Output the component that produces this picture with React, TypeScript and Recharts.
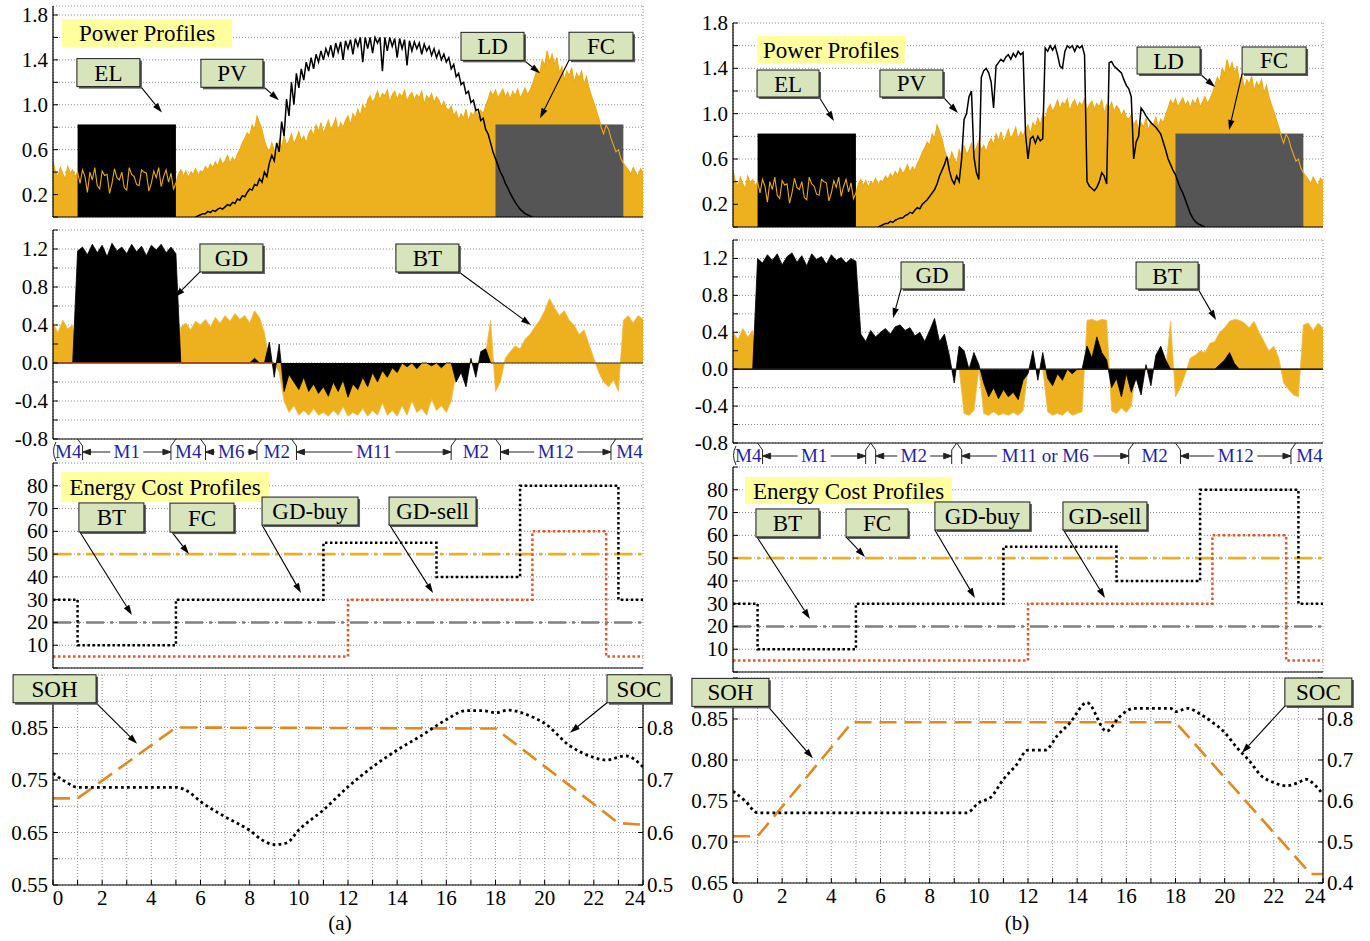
import React from 'react';
import {
  ComposedChart, Area, Line, XAxis, YAxis, CartesianGrid,
  ReferenceLine, ReferenceDot,
} from 'recharts';

// ---------------- shared axis values ----------------
const HOUR_TICKS = [0, 1, 2, 3, 4, 5, 6, 7, 8, 9, 10, 11, 12, 13, 14, 15, 16, 17, 18, 19, 20, 21, 22, 23, 24];
const POWER_TICKS = [0, 0.2, 0.4, 0.6, 0.8, 1.0, 1.2, 1.4, 1.6, 1.8];
const POWER_LABELS = [0.2, 0.6, 1.0, 1.4, 1.8];
const FLOW_TICKS = [-0.8, -0.6, -0.4, -0.2, 0, 0.2, 0.4, 0.6, 0.8, 1.0, 1.2, 1.4];
const FLOW_LABELS = [-0.8, -0.4, 0, 0.4, 0.8, 1.2];
const COST_TICKS = [0, 10, 20, 30, 40, 50, 60, 70, 80, 90];
const COST_LABELS = [10, 20, 30, 40, 50, 60, 70, 80];
const SOH_A_TICKS = [0.55, 0.6, 0.65, 0.7, 0.75, 0.8, 0.85, 0.9, 0.95];
const SOH_A_LABELS = [0.55, 0.65, 0.75, 0.85];
const SOC_A_TICKS = [0.5, 0.6, 0.7, 0.8, 0.9];
const SOC_A_LABELS = [0.5, 0.6, 0.7, 0.8];
const SOH_B_TICKS = [0.65, 0.7, 0.75, 0.8, 0.85, 0.9];
const SOH_B_LABELS = [0.65, 0.7, 0.75, 0.8, 0.85];
const SOC_B_TICKS = [0.4, 0.5, 0.6, 0.7, 0.8, 0.9];
const SOC_B_LABELS = [0.4, 0.5, 0.6, 0.7, 0.8];

// ---------------- power profiles (kW) ----------------
const LOAD_START = 0;
const LOAD_STEP = 0.1;
const LOAD_KW = [
  0.50, 0.40, 0.36, 0.44, 0.38, 0.34, 0.45, 0.39, 0.42, 0.36, 0.40,
  0.30, 0.42, 0.36, 0.22, 0.40, 0.33, 0.44, 0.28, 0.25, 0.41, 0.37, 0.38, 0.21, 0.30, 0.43, 0.35, 0.33, 0.40, 0.26, 0.24,
  0.44, 0.38, 0.36, 0.29, 0.28, 0.42, 0.40, 0.39, 0.23, 0.30, 0.41, 0.35, 0.44, 0.27, 0.36, 0.42, 0.31, 0.39, 0.25, 0.30,
  0.38, 0.42, 0.36, 0.41, 0.35, 0.40, 0.38, 0.43, 0.37, 0.41,
  0.40, 0.45, 0.42, 0.47, 0.44, 0.49, 0.45, 0.52, 0.47, 0.50, 0.55, 0.48, 0.53, 0.50, 0.56,
  0.60, 0.66, 0.70, 0.75, 0.72, 0.82, 0.78, 0.90, 0.84, 0.78, 0.68,
  0.62, 0.58, 0.66, 0.60, 0.56, 0.68, 0.62, 0.72, 0.64, 0.68, 0.74, 0.65, 0.70, 0.76, 0.68, 0.72, 0.66, 0.74,
  0.78, 0.72, 0.82, 0.76, 0.84, 0.74, 0.80, 0.86, 0.78, 0.82, 0.88, 0.76, 0.84, 0.80, 0.86, 0.90,
  0.82, 0.92, 0.88, 0.96, 0.90, 1.00, 0.95, 1.04, 1.08, 1.02,
  1.06, 1.12, 1.04, 1.10, 1.08, 1.13, 1.02, 1.09, 1.12, 1.05, 1.10, 1.07, 1.13, 1.03, 1.08,
  1.11, 1.04, 1.09, 1.06, 1.12, 1.00, 1.08, 1.05, 1.10, 1.02, 1.07, 1.04, 0.98, 1.03, 0.97,
  0.95, 0.99, 0.90, 0.94, 0.86, 0.92, 0.88, 0.96, 0.85, 0.93, 0.90, 0.97, 0.88, 0.95, 0.92, 0.99,
  1.05, 1.12, 1.08, 1.13, 1.06, 1.10, 1.14, 1.07, 1.11, 1.05, 1.12, 1.08, 1.14, 1.06, 1.10, 1.15, 1.09, 1.13, 1.18,
  1.25, 1.32, 1.28, 1.40, 1.35, 1.48, 1.38, 1.45, 1.36, 1.42,
  1.28, 1.34, 1.22, 1.30, 1.26, 1.33, 1.20, 1.28, 1.24, 1.30, 1.18, 1.25, 1.15, 1.08,
  1.02, 0.95, 0.88, 0.80, 0.74, 0.82, 0.78,
  0.70, 0.64, 0.58, 0.60, 0.52, 0.48, 0.45,
  0.42, 0.38, 0.44, 0.40, 0.36, 0.43, 0.40,
];

const PV_STEP = 0.1;
const PV_A_START = 5.8;
const PV_A_KW = [
  0, 0.01,
  0.02, 0.03, 0.03, 0.05, 0.04, 0.06, 0.05, 0.07, 0.08, 0.07,
  0.09, 0.11, 0.10, 0.13, 0.12, 0.16, 0.15, 0.19, 0.18, 0.22,
  0.25, 0.24, 0.29, 0.28, 0.34, 0.31, 0.40, 0.36, 0.48, 0.55,
  0.50, 0.66, 0.58, 0.85, 0.72, 1.05, 0.90, 1.20, 1.00, 1.28,
  1.15, 1.32, 1.22, 1.38, 1.30, 1.42, 1.32, 1.45, 1.38, 1.48,
  1.40, 1.50, 1.44, 1.53, 1.42, 1.55, 1.47, 1.56, 1.40, 1.57,
  1.50, 1.58, 1.45, 1.59, 1.52, 1.60, 1.38, 1.60, 1.50, 1.60,
  1.46, 1.60, 1.55, 1.60, 1.30, 1.60, 1.48, 1.60, 1.52, 1.59,
  1.42, 1.59, 1.50, 1.58, 1.35, 1.57, 1.48, 1.56, 1.50, 1.55,
  1.45, 1.54, 1.48, 1.52, 1.44, 1.50, 1.42, 1.48, 1.40, 1.45,
  1.38, 1.42, 1.32, 1.36, 1.25, 1.28, 1.18, 1.20, 1.10, 1.12,
  1.02, 1.04, 0.95, 0.96, 0.86, 0.88, 0.78, 0.74, 0.66, 0.58,
  0.52, 0.46, 0.40, 0.36, 0.30, 0.26, 0.21, 0.17, 0.13, 0.10,
  0.07, 0.05, 0.03, 0.02, 0.01, 0,
];

const PV_B_START = 5.9;
const PV_B_KW = [
  0,
  0.01, 0.02, 0.03, 0.03, 0.05, 0.04, 0.06, 0.07, 0.08, 0.08,
  0.10, 0.11, 0.13, 0.12, 0.15, 0.17, 0.16, 0.20, 0.22, 0.24,
  0.27, 0.30, 0.33, 0.38, 0.45, 0.50, 0.55, 0.62, 0.50, 0.42,
  0.38, 0.45, 0.40, 0.60, 0.95, 1.00, 1.15, 1.20, 0.62, 0.48,
  0.42, 1.32, 1.38, 1.40, 1.36, 1.28, 1.05, 1.42, 1.45, 1.48,
  1.46, 1.50, 1.52, 1.48, 1.53, 1.50, 1.55, 1.52, 1.54, 0.82,
  0.60, 0.78, 0.80, 0.74, 0.80, 0.76, 0.78, 1.58, 1.55, 1.60,
  1.56, 1.60, 1.52, 1.42, 1.40, 1.55, 1.60, 1.58, 1.60, 1.55,
  1.60, 1.58, 1.60, 1.52, 0.40, 0.36, 0.34, 0.32, 0.35, 0.40,
  0.48, 0.45, 0.38, 1.45, 1.46, 1.42, 1.40, 1.38, 1.36, 1.30,
  1.25, 1.22, 1.15, 0.60, 0.75, 0.80, 1.05, 1.02, 0.98, 0.95,
  0.92, 0.90, 0.88, 0.85, 0.82, 0.75, 0.68, 0.60, 0.55, 0.50,
  0.46, 0.40, 0.34, 0.30, 0.24, 0.18, 0.12, 0.08, 0.05, 0.03,
  0.02, 0.01, 0,
];

const EL_HOURS = [1, 5];
const EL_KW = 0.82;
const FC_HOURS = [18, 23.2];
const FC_KW = 0.82;

// ---------------- grid / battery exchange (kW) ----------------
const FLOW_STEP = 0.2;
const GD_A_KW = [
  0, 0, 0, 0, 0,
  1.18, 1.22, 1.14, 1.25, 1.16, 1.24, 1.12, 1.26, 1.18, 1.22, 1.15, 1.25, 1.17, 1.23, 1.13, 1.24, 1.19, 1.25, 1.16, 1.22, 1.15,
  0, 0, 0, 0, 0, 0, 0, 0, 0, 0, 0, 0, 0, 0, 0,
  0.05, 0, 0,
  0.22, -0.15, 0.20, -0.30,
  -0.12, -0.20, -0.28, -0.15, -0.30, -0.22, -0.32,
  -0.25, -0.35, -0.20, -0.30, -0.18, -0.36, -0.22, -0.28, -0.15,
  -0.25, -0.10, -0.20, -0.08, -0.15, -0.05, -0.10,
  0, -0.04, 0, -0.06, 0, 0, -0.03, 0, -0.05, 0, 0,
  -0.20, -0.10, -0.25, 0.05, -0.15, 0.12, 0.15,
  0, 0, 0, 0, 0, 0, 0, 0, 0, 0, 0, 0, 0, 0, 0, 0,
  0, 0, 0, 0, 0, 0, 0, 0, 0, 0, 0, 0, 0, 0, 0, 0,
];
const BT_A_KW = [
  0.42, 0.32, 0.45, 0.36, 0.40,
  0, 0, 0, 0, 0, 0, 0, 0, 0, 0, 0, 0, 0, 0, 0, 0, 0, 0, 0, 0, 0,
  0.38, 0.42, 0.35, 0.44, 0.40, 0.46, 0.38, 0.48, 0.42, 0.50, 0.44, 0.52, 0.46, 0.50, 0.42, 0.55, 0.48, 0.32,
  0.02, 0, -0.10,
  -0.40, -0.52, -0.45, -0.55, -0.50, -0.55, -0.48, -0.55, -0.52, -0.56, -0.50, -0.55, -0.46, -0.56, -0.52, -0.55, -0.48, -0.56,
  -0.50, -0.55, -0.42, -0.55, -0.50, -0.56, -0.45, -0.55, -0.40, -0.52, -0.48, -0.55, -0.38, -0.50, -0.45, -0.52, -0.40,
  -0.10, 0, 0, 0, 0, 0, 0.10,
  0.45, -0.30, -0.20,
  0.05, 0.12, 0.18, 0.15, 0.25, 0.30, 0.38, 0.45, 0.55, 0.68, 0.58, 0.50, 0.55, 0.45, 0.40, 0.30, 0.35, 0.20, 0.05,
  -0.10, -0.20, -0.25, -0.18, -0.30,
  0.45, 0.50, 0.42, 0.50, 0.46,
];
const GD_B_KW = [
  0, 0, 0, 0, 0,
  1.20, 1.15, 1.24, 1.18, 1.25, 1.13, 1.22, 1.26, 1.16, 1.23, 1.12, 1.25, 1.19, 1.22, 1.14, 1.24, 1.18, 1.21, 1.15, 1.20, 1.17,
  0.38, 0.30, 0.42, 0.35, 0.40, 0.44, 0.38, 0.46, 0.48, 0.42, 0.45, 0.36, 0.40, 0.30, 0.42,
  0.55, 0.30, 0.38, 0.15,
  -0.15, 0.25, 0.20,
  0, 0.18, 0.05,
  -0.15, -0.30, -0.20, -0.32, -0.22, -0.30, -0.25, -0.33, -0.12,
  -0.05, 0.20, -0.12, 0.18,
  -0.10, -0.18, -0.05, -0.12, 0, -0.05, 0, 0,
  0.25, 0.12, 0.35, 0.18, 0.10,
  -0.20, -0.10, -0.30, -0.05, -0.25,
  -0.10, -0.28, 0.05, -0.18, 0.15, 0.25, 0.10,
  0, 0, 0, 0, 0, 0, 0, 0, 0, 0, 0.05,
  0.10, 0.18, 0.06,
  0, 0, 0, 0, 0, 0, 0, 0, 0, 0, 0, 0, 0, 0, 0, 0, 0, 0,
];
const BT_B_KW = [
  0.40, 0.32, 0.44, 0.35, 0.42,
  0, 0, 0, 0, 0, 0, 0, 0, 0, 0, 0, 0, 0, 0, 0, 0, 0, 0, 0, 0, 0,
  0, 0, 0, 0, 0, 0, 0, 0, 0, 0, 0, 0, 0, 0, 0, 0, 0, 0, 0, 0, 0,
  -0.48, -0.50, -0.45,
  0,
  -0.48, -0.50, -0.46, -0.50, -0.48, -0.50, -0.47, -0.50, -0.45,
  0, 0, 0, 0,
  -0.46, -0.50, -0.48, -0.50, -0.45, -0.50, -0.48, -0.46,
  0.53, 0.54, 0.52, 0.54, 0.53,
  -0.45, -0.48, -0.42, -0.47, -0.40,
  0, 0, 0, 0, 0, 0, 0,
  0.52,
  -0.30, -0.20, -0.05,
  0.12, 0.15, 0.20, 0.18, 0.28, 0.30, 0.40, 0.45, 0.52, 0.54, 0.53, 0.50, 0.45, 0.52, 0.40, 0.30, 0.20, 0.25, 0.12,
  -0.15, -0.22, -0.28, -0.30,
  0.48, 0.50, 0.42, 0.50, 0.45,
];

// ---------------- energy cost profiles ----------------
const BUY_HOURS = [0, 1, 5, 11, 15.6, 19, 23, 24];
const BUY_PRICE = [30, 10, 30, 55, 40, 80, 30, 30];
const SELL_HOURS = [0, 12, 19.5, 22.5, 24];
const SELL_PRICE = [5, 30, 60, 5, 5];
const FC_PRICE = 50;
const BT_PRICE = 20;

// ---------------- battery state ----------------
const SOH_A_HOURS = [0, 1, 5, 18, 23, 24];
const SOH_A = [0.715, 0.715, 0.85, 0.848, 0.668, 0.665];
const SOC_A_HOURS = [0, 0.5, 1, 2, 3, 4, 5, 5.5, 6, 7, 8, 8.5, 9, 9.5, 10, 11, 12, 13, 14, 15, 16, 16.8, 17.5, 18, 18.5, 19.5, 20, 21, 22, 22.5, 23.3, 24];
const SOC_A = [0.713, 0.697, 0.686, 0.686, 0.686, 0.686, 0.686, 0.678, 0.659, 0.630, 0.604, 0.586, 0.577, 0.580, 0.605, 0.643, 0.687, 0.725, 0.757, 0.785, 0.815, 0.832, 0.832, 0.828, 0.833, 0.820, 0.808, 0.766, 0.743, 0.738, 0.746, 0.725];
const SOH_B_HOURS = [0, 1, 4.85, 18, 23.5, 24];
const SOH_B = [0.707, 0.707, 0.846, 0.846, 0.661, 0.661];
const SOC_B_HOURS = [0, 0.5, 1, 2, 4, 6, 8, 9.5, 10, 10.5, 11, 11.5, 12, 12.7, 13.2, 13.7, 14.4, 15.2, 15.7, 16.3, 17.8, 18, 18.5, 19, 19.5, 20, 20.5, 21, 21.5, 22, 22.5, 23, 23.3, 23.7, 24];
const SOC_B = [0.624, 0.600, 0.571, 0.571, 0.571, 0.571, 0.571, 0.571, 0.596, 0.610, 0.653, 0.686, 0.724, 0.724, 0.760, 0.790, 0.840, 0.770, 0.804, 0.826, 0.826, 0.818, 0.826, 0.812, 0.792, 0.767, 0.730, 0.698, 0.661, 0.645, 0.637, 0.645, 0.653, 0.637, 0.616];

// ---------------- operating modes ----------------
const MODES_A = ['M4', 'M1', 'M4', 'M6', 'M2', 'M11', 'M2', 'M12', 'M4'];
const MODE_EDGES_A = [0, 1, 5, 6, 8.5, 9.7, 16.4, 18, 22.9, 24];
const MODES_B = ['M4', 'M1', 'M2', 'M11 or M6', 'M2', 'M12', 'M4'];
const MODE_EDGES_B = [0, 1, 5.6, 9.1, 16.3, 18, 22.9, 24];

// ---------------- styling ----------------
const FONT = '"Liberation Serif", "Times New Roman", serif';
const ORANGE = '#EDB120';
const FC_GREY = '#555555';
const SELL_RED = '#E8532A';
const SOH_ORANGE = '#E3881E';
const MODE_BLUE = '#1f1fa8';
const CHART_W = 690;
const PLOT_LEFT = 53;
const PLOT_RIGHT = 643;
const HOUR_PX = (PLOT_RIGHT - PLOT_LEFT) / 24;
const Y_W = 48;
const STRIP_H = 24;
const TICK_FONT = 21;

// ---------------- tables built from the arrays ----------------
type Row = { t: number; v: number };
const evenRows = (start: number, step: number, vals: number[]): Row[] =>
  vals.map((v, i) => ({ t: Math.round((start + i * step) * 100) / 100, v }));
const pairRows = (ts: number[], vs: number[]): Row[] => ts.map((t, i) => ({ t, v: vs[i] }));
const levelRows = (ts: number[], v: number): Row[] => ts.map((t) => ({ t, v }));

const LOAD_ROWS = evenRows(LOAD_START, LOAD_STEP, LOAD_KW);
const PV_A_ROWS = evenRows(PV_A_START, PV_STEP, PV_A_KW);
const PV_B_ROWS = evenRows(PV_B_START, PV_STEP, PV_B_KW);
const EL_ROWS = levelRows(EL_HOURS, EL_KW);
const FC_ROWS = levelRows(FC_HOURS, FC_KW);
const GD_A_ROWS = evenRows(0, FLOW_STEP, GD_A_KW);
const BT_A_ROWS = evenRows(0, FLOW_STEP, BT_A_KW);
const GD_B_ROWS = evenRows(0, FLOW_STEP, GD_B_KW);
const BT_B_ROWS = evenRows(0, FLOW_STEP, BT_B_KW);
const BUY_ROWS = pairRows(BUY_HOURS, BUY_PRICE);
const SELL_ROWS = pairRows(SELL_HOURS, SELL_PRICE);
const FC_PRICE_ROWS = levelRows([0, 24], FC_PRICE);
const BT_PRICE_ROWS = levelRows([0, 24], BT_PRICE);
const SOH_A_ROWS = pairRows(SOH_A_HOURS, SOH_A);
const SOC_A_ROWS = pairRows(SOC_A_HOURS, SOC_A);
const SOH_B_ROWS = pairRows(SOH_B_HOURS, SOH_B);
const SOC_B_ROWS = pairRows(SOC_B_HOURS, SOC_B);
const HOUR_ROWS = HOUR_TICKS.map((t) => ({ t }));

const labelled = (list: number[], digits: number) => (v: number) =>
  list.some((l) => Math.abs(l - v) < 1e-6) ? v.toFixed(digits) : '';

// ---------------- callouts ----------------
type Note = {
  x: number; y: number; text: string;
  bx: number; by: number; w: number; h: number;
  ax?: number; ay?: number; title?: boolean; right?: boolean;
};

const NOTES_P1_A: Note[] = [
  { x: 0.37, y: 1.764, text: 'Power Profiles', bx: 0, by: 0, w: 170, h: 28, title: true },
  { x: 4.43, y: 0.93, text: 'EL', bx: -85, by: -54, w: 63, h: 28, ax: -22, ay: -27 },
  { x: 9.19, y: 1.04, text: 'PV', bx: -78, by: -41, w: 62, h: 28, ax: -16, ay: -14 },
  { x: 19.81, y: 1.28, text: 'LD', bx: -79, by: -41, w: 63, h: 28, ax: -16, ay: -13 },
  { x: 19.81, y: 0.88, text: 'FC', bx: 29, by: -86, w: 64, h: 28, ax: 29, ay: -58 },
];
const NOTES_P1_B: Note[] = [
  { x: 0.98, y: 1.685, text: 'Power Profiles', bx: 0, by: 0, w: 148, h: 27, title: true },
  { x: 4.11, y: 0.935, text: 'EL', bx: -77, by: -51, w: 62, h: 27, ax: -15, ay: -24 },
  { x: 9.15, y: 1.006, text: 'PV', bx: -78, by: -43, w: 63, h: 27, ax: -15, ay: -16 },
  { x: 19.61, y: 1.235, text: 'LD', bx: -78, by: -40, w: 63, h: 27, ax: -15, ay: -13 },
  { x: 20.18, y: 0.856, text: 'FC', bx: 13, by: -83, w: 64, h: 27, ax: 13, ay: -56 },
];
const NOTES_P2_A: Note[] = [
  { x: 4.96, y: 0.695, text: 'GD', bx: 25, by: -53, w: 63, h: 28, ax: 25, ay: -25 },
  { x: 19.44, y: 0.40, text: 'BT', bx: -135, by: -81, w: 63, h: 28, ax: -72, ay: -53 },
];
const NOTES_P2_B: Note[] = [
  { x: 6.51, y: 0.555, text: 'GD', bx: 8, by: -56, w: 62, h: 27, ax: 8, ay: -29 },
  { x: 19.65, y: 0.533, text: 'BT', bx: -80, by: -58, w: 62, h: 27, ax: -18, ay: -31 },
];
const NOTES_P3_A: Note[] = [
  { x: 0.33, y: 86.0, text: 'Energy Cost Profiles', bx: 0, by: 0, w: 208, h: 30, title: true },
  { x: 3.21, y: 23.3, text: 'BT', bx: -53, by: -112, w: 65, h: 29, ax: -52, ay: -83 },
  { x: 5.53, y: 50, text: 'FC', bx: -19, by: -51, w: 64, h: 29, ax: -17, ay: -22 },
  { x: 10.09, y: 32.9, text: 'GD-buy', bx: -39, by: -96, w: 96, h: 28, ax: -39, ay: -68 },
  { x: 15.46, y: 32.9, text: 'GD-sell', bx: -44, by: -96, w: 87, h: 28, ax: -44, ay: -69 },
];
const NOTES_P3_B: Note[] = [
  { x: 0.49, y: 85.6, text: 'Energy Cost Profiles', bx: 0, by: 0, w: 207, h: 27, title: true },
  { x: 3.13, y: 23.3, text: 'BT', bx: -54, by: -110, w: 63, h: 28, ax: -53, ay: -82 },
  { x: 5.37, y: 50.5, text: 'FC', bx: -19, by: -48, w: 62, h: 28, ax: -19, ay: -20 },
  { x: 9.84, y: 32.5, text: 'GD-buy', bx: -40, by: -96, w: 95, h: 28, ax: -40, ay: -68 },
  { x: 15.13, y: 32.5, text: 'GD-sell', bx: -42, by: -96, w: 84, h: 28, ax: -42, ay: -69 },
];
const NOTES_P4_A: Note[] = [
  { x: 3.42, y: 0.819, text: 'SOH', bx: -124, by: -69, w: 83, h: 28, ax: -41, ay: -41 },
  { x: 21.03, y: 0.79, text: 'SOC', bx: 37, by: -58, w: 64, h: 28, ax: 37, ay: -30, right: true },
];
const NOTES_P4_B: Note[] = [
  { x: 3.25, y: 0.802, text: 'SOH', bx: -121, by: -80, w: 77, h: 28, ax: -45, ay: -52 },
  { x: 20.7, y: 0.717, text: 'SOC', bx: 43, by: -75, w: 67, h: 28, ax: 43, ay: -47, right: true },
];

function NoteShape({ cx, cy, note }: any) {
  const n: Note = note;
  if (cx == null || cy == null) return <g />;
  const x0 = cx + n.bx;
  const y0 = cy + n.by;
  if (n.title) {
    return (
      <g>
        <rect x={x0} y={y0} width={n.w} height={n.h} fill="#FFFF9E" />
        <text x={x0 + n.w / 2} y={y0 + n.h / 2 + 8} textAnchor="middle" fontSize={23} fontFamily={FONT} fill="#000">{n.text}</text>
      </g>
    );
  }
  const sx = cx + (n.ax ?? 0);
  const sy = cy + (n.ay ?? 0);
  const ang = Math.atan2(cy - sy, cx - sx);
  const L = 10;
  const W = 3.2;
  const hx = cx - L * Math.cos(ang);
  const hy = cy - L * Math.sin(ang);
  const head = `${cx},${cy} ${hx + W * Math.sin(ang)},${hy - W * Math.cos(ang)} ${hx - W * Math.sin(ang)},${hy + W * Math.cos(ang)}`;
  return (
    <g>
      <line x1={sx} y1={sy} x2={hx} y2={hy} stroke="#000" strokeWidth={1.1} />
      <polygon points={head} fill="#000" />
      <rect x={x0 + 2} y={y0 + 2} width={n.w} height={n.h} fill="#5c5c5c" />
      <rect x={x0} y={y0} width={n.w} height={n.h} fill="#D8E4BC" stroke="#1a1a1a" strokeWidth={1} />
      <text x={x0 + n.w / 2} y={y0 + n.h / 2 + 8} textAnchor="middle" fontSize={23} fontFamily={FONT} fill="#000">{n.text}</text>
    </g>
  );
}

const noteDots = (notes: Note[], prefix: string) =>
  notes.map((n, i) => (
    <ReferenceDot
      key={`${prefix}-${i}`}
      x={n.x}
      y={n.y}
      yAxisId={n.right ? 'r' : 0}
      r={0}
      ifOverflow="visible"
      shape={(p: any) => <NoteShape {...p} note={n} />}
    />
  ));

// ---------------- operating-mode strip under the exchange panel ----------------
const charW = (c: string) => (c === 'M' ? 17 : c === ' ' ? 5 : c === 'r' ? 6.5 : 10);
const textWidth = (s: string) => s.split('').reduce((a, c) => a + charW(c), 0);

function ModeMark({ cx, cy, name, span, first }: any) {
  if (cx == null || cy == null) return <g />;
  const width = span * HOUR_PX;
  const x = cx - width / 2;
  const top = cy;
  const bot = cy + STRIP_H;
  const mid = (top + bot) / 2;
  const tw = textWidth(name);
  const arrows = width - tw - 14 > 18;
  const ink = '#222';
  const lx = x + 5;
  const rx = x + width - 5;
  const ay = mid + 1;
  return (
    <g>
      {arrows && (
        <g stroke={ink} strokeWidth={1}>
          <line x1={x} y1={top} x2={lx} y2={top + 7} />
          <line x1={lx} y1={top + 7} x2={lx} y2={bot - 3} />
          <line x1={x + width} y1={top} x2={rx} y2={top + 7} />
          <line x1={rx} y1={top + 7} x2={rx} y2={bot - 3} />
          <line x1={lx + 6} y1={ay} x2={cx - tw / 2 - 3} y2={ay} />
          <line x1={cx + tw / 2 + 3} y1={ay} x2={rx - 6} y2={ay} />
          <polygon points={`${lx},${ay} ${lx + 8},${ay - 2.8} ${lx + 8},${ay + 2.8}`} fill={ink} />
          <polygon points={`${rx},${ay} ${rx - 8},${ay - 2.8} ${rx - 8},${ay + 2.8}`} fill={ink} />
        </g>
      )}
      {first && (
        <path d={`M ${x + 3} ${top + 3} Q ${x - 2} ${mid} ${x + 3} ${bot - 2}`} stroke={ink} fill="none" strokeWidth={1} />
      )}
      <text x={first ? cx + 3 : cx} y={mid + 7} textAnchor="middle" fill={MODE_BLUE} fontSize={19} fontFamily={FONT}>{name}</text>
    </g>
  );
}

const modeDots = (names: string[], edges: number[], floor: number) =>
  names.map((n, i) => {
    const span = edges[i + 1] - edges[i];
    return (
      <ReferenceDot
        key={`mode-${i}`}
        x={(edges[i] + edges[i + 1]) / 2}
        y={floor}
        r={0}
        ifOverflow="visible"
        shape={(p: any) => <ModeMark {...p} name={n} span={span} first={i === 0} />}
      />
    );
  });

// ---------------- axis ticks ----------------
function HourTick({ x, y, payload }: any) {
  const v = payload?.value as number;
  if (v % 2 !== 0) return <g />;
  const dx = v === 0 ? 5 : v === 24 ? -8 : 0;
  return (
    <text x={x + dx} y={y + 15} textAnchor="middle" fontSize={TICK_FONT} fontFamily={FONT} fill="#000">{v}</text>
  );
}

function ValueTick({ x, y, payload, fmt, anchor }: any) {
  const s = fmt(payload?.value as number);
  if (!s) return <g />;
  return (
    <text x={x} y={y + 7} textAnchor={anchor} fontSize={TICK_FONT} fontFamily={FONT} fill="#000">{s}</text>
  );
}

type AxisSpec = { domain: [number, number]; ticks: number[]; fmt: (v: number) => string };

type PanelProps = {
  left: number;
  plotTop: number;
  plotH: number;
  yAxis: AxisSpec;
  rightAxis?: AxisSpec;
  bottom?: boolean;
  below?: number;
  children?: React.ReactNode;
};

function Panel({ left, plotTop, plotH, yAxis, rightAxis, bottom, below, children }: PanelProps) {
  const padTop = 14;
  const axisH = bottom ? 30 : 2;
  const marginBottom = bottom ? 0 : below ?? 14;
  const rightW = rightAxis ? 36 : 0;
  const height = padTop + plotH + axisH + marginBottom;
  const axisLine = { stroke: '#000', strokeWidth: 1.2 };
  return (
    <div style={{ position: 'absolute', left, top: plotTop - padTop }}>
      <ComposedChart
        width={CHART_W}
        height={height}
        data={HOUR_ROWS}
        margin={{ top: padTop, left: PLOT_LEFT - Y_W, right: CHART_W - PLOT_RIGHT - rightW, bottom: marginBottom }}
      >
        <CartesianGrid stroke="#8c8c8c" strokeDasharray="1 2" strokeWidth={1} />
        <XAxis
          type="number"
          dataKey="t"
          domain={[0, 24]}
          ticks={HOUR_TICKS}
          interval={0}
          allowDataOverflow
          height={axisH}
          tickSize={-5}
          tickMargin={bottom ? 10 : 0}
          axisLine={axisLine}
          tickLine={{ stroke: '#000' }}
          tick={bottom ? <HourTick /> : false}
        />
        <XAxis
          xAxisId="top"
          orientation="top"
          type="number"
          dataKey="t"
          domain={[0, 24]}
          ticks={HOUR_TICKS}
          interval={0}
          allowDataOverflow
          height={0}
          tickSize={-5}
          axisLine={axisLine}
          tickLine={{ stroke: '#000' }}
          tick={false}
        />
        <YAxis
          type="number"
          domain={yAxis.domain}
          ticks={yAxis.ticks}
          interval={0}
          allowDataOverflow
          width={Y_W}
          tickSize={-5}
          tickMargin={10}
          axisLine={axisLine}
          tickLine={{ stroke: '#000' }}
          tick={<ValueTick fmt={yAxis.fmt} anchor="end" />}
        />
        {rightAxis ? (
          <YAxis
            yAxisId="r"
            orientation="right"
            type="number"
            domain={rightAxis.domain}
            ticks={rightAxis.ticks}
            interval={0}
            allowDataOverflow
            width={rightW}
            tickSize={-5}
            tickMargin={9}
            axisLine={axisLine}
            tickLine={{ stroke: '#000' }}
            tick={<ValueTick fmt={rightAxis.fmt} anchor="start" />}
          />
        ) : (
          <YAxis
            yAxisId="edge"
            orientation="right"
            type="number"
            domain={yAxis.domain}
            ticks={yAxis.ticks}
            interval={0}
            allowDataOverflow
            width={0}
            tickSize={-5}
            axisLine={axisLine}
            tickLine={{ stroke: '#000' }}
            tick={false}
          />
        )}
        {children}
      </ComposedChart>
    </div>
  );
}

// ---------------- panels ----------------
const powerAxisA: AxisSpec = { domain: [0, 1.88], ticks: POWER_TICKS, fmt: labelled(POWER_LABELS, 1) };
const powerAxisB: AxisSpec = { domain: [0, 1.8], ticks: POWER_TICKS, fmt: labelled(POWER_LABELS, 1) };
const flowAxis: AxisSpec = { domain: [-0.8, 1.4], ticks: FLOW_TICKS, fmt: labelled(FLOW_LABELS, 1) };
const costAxis: AxisSpec = { domain: [0, 90], ticks: COST_TICKS, fmt: labelled(COST_LABELS, 0) };
const sohAxisA: AxisSpec = { domain: [0.55, 0.95], ticks: SOH_A_TICKS, fmt: labelled(SOH_A_LABELS, 2) };
const socAxisA: AxisSpec = { domain: [0.5, 0.9], ticks: SOC_A_TICKS, fmt: labelled(SOC_A_LABELS, 1) };
const sohAxisB: AxisSpec = { domain: [0.65, 0.9], ticks: SOH_B_TICKS, fmt: labelled(SOH_B_LABELS, 2) };
const socAxisB: AxisSpec = { domain: [0.4, 0.9], ticks: SOC_B_TICKS, fmt: labelled(SOC_B_LABELS, 1) };

const seriesBase = { dataKey: 'v', isAnimationActive: false, dot: false, activeDot: false } as const;

function powerSeries(pv: Row[]) {
  return [
    <Area key="ld-fill" {...seriesBase} data={LOAD_ROWS} type="linear" fill={ORANGE} fillOpacity={1} stroke="none" baseValue={0} />,
    <Area key="el" {...seriesBase} data={EL_ROWS} type="linear" fill="#000" fillOpacity={1} stroke="#000" baseValue={0} />,
    <Area key="fc" {...seriesBase} data={FC_ROWS} type="linear" fill={FC_GREY} fillOpacity={1} stroke={FC_GREY} baseValue={0} />,
    <Line key="ld-line" {...seriesBase} data={LOAD_ROWS} type="linear" stroke="#EBAA12" strokeWidth={1.1} />,
    <Line key="pv" {...seriesBase} data={pv} type="linear" stroke="#000" strokeWidth={1.5} />,
  ];
}

function flowSeries(bt: Row[], gd: Row[], zero: string, zeroUntil: number) {
  return [
    <Area key="bt" {...seriesBase} data={bt} type="linear" fill={ORANGE} fillOpacity={1} stroke="#F0BD45" strokeWidth={0.8} baseValue={0} />,
    <Area key="gd" {...seriesBase} data={gd} type="linear" fill="#000" fillOpacity={1} stroke="#000" strokeWidth={0.8} baseValue={0} />,
    <ReferenceLine key="zero" segment={[{ x: 0, y: 0 }, { x: zeroUntil, y: 0 }]} stroke={zero} strokeWidth={1.4} />,
  ];
}

function costSeries() {
  return [
    <Line key="bt-price" {...seriesBase} data={BT_PRICE_ROWS} type="linear" stroke="#808080" strokeWidth={2.6} strokeDasharray="18 6 3 6" />,
    <Line key="fc-price" {...seriesBase} data={FC_PRICE_ROWS} type="linear" stroke={ORANGE} strokeWidth={2.6} strokeDasharray="18 6 3 6" />,
    <Line key="sell" {...seriesBase} data={SELL_ROWS} type="stepAfter" stroke={SELL_RED} strokeWidth={2.5} strokeDasharray="2.5 2.5" />,
    <Line key="buy" {...seriesBase} data={BUY_ROWS} type="stepAfter" stroke="#000" strokeWidth={2.5} strokeDasharray="2.5 2.5" />,
  ];
}

function batterySeries(soh: Row[], soc: Row[]) {
  return [
    <Line key="soh" {...seriesBase} data={soh} type="linear" stroke={SOH_ORANGE} strokeWidth={2.6} strokeDasharray="17 8" />,
    <Line key="soc" {...seriesBase} data={soc} yAxisId="r" type="monotone" stroke="#000" strokeWidth={2.8} strokeDasharray="2.8 3.2" />,
  ];
}

export default function App() {
  const A = 0;
  const B = 680;
  return (
    <div style={{ position: 'absolute', left: 0, top: 0, width: 1370, height: 941, background: '#fff', overflow: 'hidden', fontFamily: FONT }}>
      {/* column (a) */}
      <Panel left={A} plotTop={6} plotH={211} yAxis={powerAxisA}>
        {powerSeries(PV_A_ROWS)}
        {noteDots(NOTES_P1_A, 'p1a')}
      </Panel>
      <Panel left={A} plotTop={230} plotH={209} yAxis={flowAxis} below={STRIP_H + 4}>
        {flowSeries(BT_A_ROWS, GD_A_ROWS, '#A8401E', 9)}
        {noteDots(NOTES_P2_A, 'p2a')}
        {modeDots(MODES_A, MODE_EDGES_A, flowAxis.domain[0])}
      </Panel>
      <Panel left={A} plotTop={463} plotH={205} yAxis={costAxis}>
        {costSeries()}
        {noteDots(NOTES_P3_A, 'p3a')}
      </Panel>
      <Panel left={A} plotTop={675} plotH={210} yAxis={sohAxisA} rightAxis={socAxisA} bottom>
        {batterySeries(SOH_A_ROWS, SOC_A_ROWS)}
        {noteDots(NOTES_P4_A, 'p4a')}
      </Panel>

      {/* column (b) */}
      <Panel left={B} plotTop={23} plotH={204} yAxis={powerAxisB}>
        {powerSeries(PV_B_ROWS)}
        {noteDots(NOTES_P1_B, 'p1b')}
      </Panel>
      <Panel left={B} plotTop={240} plotH={203} yAxis={flowAxis} below={STRIP_H + 4}>
        {flowSeries(BT_B_ROWS, GD_B_ROWS, '#222', 24)}
        {noteDots(NOTES_P2_B, 'p2b')}
        {modeDots(MODES_B, MODE_EDGES_B, flowAxis.domain[0])}
      </Panel>
      <Panel left={B} plotTop={467} plotH={205} yAxis={costAxis}>
        {costSeries()}
        {noteDots(NOTES_P3_B, 'p3b')}
      </Panel>
      <Panel left={B} plotTop={678} plotH={205} yAxis={sohAxisB} rightAxis={socAxisB} bottom>
        {batterySeries(SOH_B_ROWS, SOC_B_ROWS)}
        {noteDots(NOTES_P4_B, 'p4b')}
      </Panel>

      <div style={{ position: 'absolute', left: 340, top: 911, transform: 'translateX(-50%)', fontFamily: FONT, fontSize: 21 }}>(a)</div>
      <div style={{ position: 'absolute', left: 1017, top: 911, transform: 'translateX(-50%)', fontFamily: FONT, fontSize: 21 }}>(b)</div>
    </div>
  );
}
